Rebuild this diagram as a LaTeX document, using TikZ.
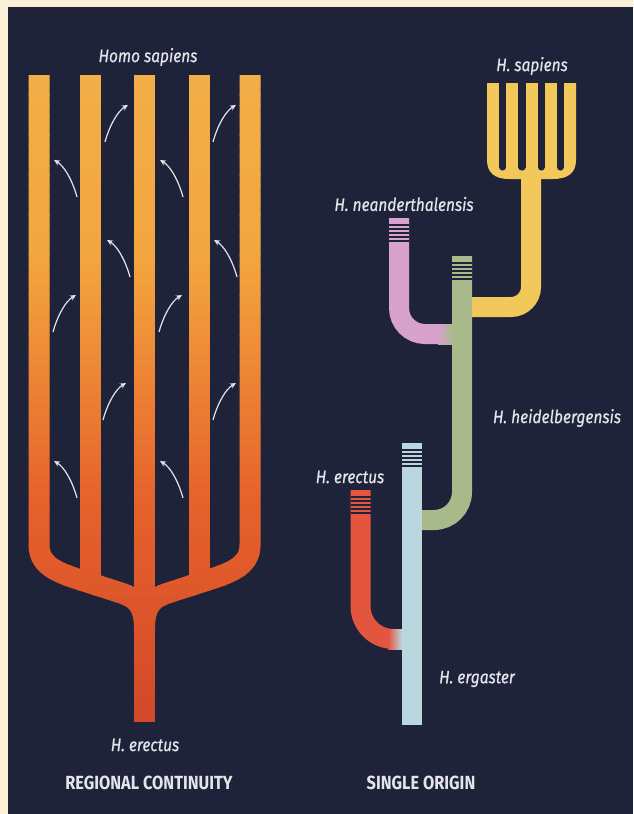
\documentclass[tikz,border=0pt]{standalone}
\usepackage{fontspec}
\setmainfont{Fira Sans}[FakeStretch=0.86]
\newfontfamily\lblfamily{Fira Sans}[FakeStretch=0.86, FakeBold=0.6]
\usetikzlibrary{arrows.meta}
\definecolor{cream}{HTML}{FBEFD8}
\definecolor{bg}{HTML}{1E2339}
\definecolor{txt}{HTML}{E4E4EA}
\definecolor{gA}{HTML}{F2AE48}
\definecolor{gB}{HTML}{F2A53E}
\definecolor{gC}{HTML}{E6622B}
\definecolor{gD}{HTML}{D2482A}
\definecolor{sapY}{HTML}{F3C85A}
\definecolor{pinkN}{HTML}{D7A3CD}
\definecolor{greenH}{HTML}{A8B98A}
\definecolor{blueE}{HTML}{BAD7DF}
\definecolor{redE}{HTML}{E4553F}
\colorlet{cur}{gA}
\tikzset{
  lbl/.style={text=txt, font=\lblfamily\itshape\fontsize{18}{18}\selectfont, inner sep=0pt},
  ttl/.style={text=txt, font=\bfseries\fontsize{19}{19}\selectfont, inner sep=0pt},
  lbar/.style={draw=cur, line width=21pt, line join=round},
  rbar/.style={draw=#1, line width=20pt},
  migr/.style={draw=txt, line width=1.2pt, -{Stealth[length=6pt,width=5.5pt]}},
  stripe/.style={draw=bg, line width=1.1pt}
}
\newcommand\leftfig{%
  \draw[lbar] (39,75) -- (39,545) .. controls (39,568) and (62,574) .. (90,583) -- (118,592) .. controls (138,598) and (144.5,606) .. (144.5,630);
  \draw[lbar] (250,75) -- (250,545) .. controls (250,568) and (227,574) .. (199,583) -- (171,592) .. controls (151,598) and (144.5,606) .. (144.5,630);
  \draw[lbar] (90,75) -- (90,585);
  \draw[lbar] (199,75) -- (199,585);
  \draw[lbar] (144.5,75) -- (144.5,722);
}
\newcommand\upright[2]{\draw[migr] (#1,#2) .. controls ++(5,-18) and ++(-10,6) .. ++(23,-37);}
\newcommand\upleft[2]{\draw[migr] (#1,#2) .. controls ++(-5,-18) and ++(10,6) .. ++(-23,-37);}
\newcommand\topstripes[3]{\foreach \d in {7,11,15,19,23}{\draw[stripe] (#1-#3,#2+\d) -- (#1+#3,#2+\d);}}
\begin{document}
\begin{tikzpicture}[x=1pt,y=-1pt]
\fill[cream] (0,0) rectangle (633,814);
\fill[bg] (8,7) rectangle (633,814);
\useasboundingbox (0,0) rectangle (633,814);
% left figure with vertical gradient
\foreach \i in {0,...,65}{
  \pgfmathsetmacro\ya{75+\i*10}
  \pgfmathsetmacro\yb{\ya+10.6}
  \pgfmathsetmacro\ym{\ya+5}
  \ifdim\ym pt<260pt
    \pgfmathtruncatemacro\t{(\ym-75)/185*100}\colorlet{cur}{gB!\t!gA}
  \else\ifdim\ym pt<500pt
    \pgfmathtruncatemacro\t{(\ym-260)/240*100}\colorlet{cur}{gC!\t!gB}
  \else
    \pgfmathtruncatemacro\t{min(100,(\ym-500)/222*100)}\colorlet{cur}{gD!\t!gC}
  \fi\fi
  \begin{scope}
    \clip (10,\ya) rectangle (300,\yb);
    \leftfig
  \end{scope}
}
% migration arrows
\upright{105}{142}\upright{213}{142}
\upleft{77}{197}\upleft{183}{197}
\upleft{130}{277}\upleft{237}{277}
\upright{53}{332}\upright{159}{332}
\upright{103}{420}\upright{213}{420}
\upleft{77}{498}\upleft{183}{498}
% right figure
\draw[rbar=sapY, rounded corners=20pt] (531,178) -- (531,307) -- (462,307);
\fill[sapY] (487,83) -- (487,160) .. controls (487,172) and (494,179) .. (509,179) -- (553,179) .. controls (569,179) and (576,172) .. (576,160) -- (576,83) -- cycle;
\foreach \g in {502.6,521.9,541.1,560.4}{\draw[bg, line width=7.2pt, line cap=round] (\g,80) -- (\g,167);}
\draw[rbar=pinkN, rounded corners=26pt] (399,218) -- (399,334) -- (462,334);
\shade[left color=pinkN, right color=greenH] (438,324) rectangle (453,344);
\topstripes{399}{218}{10}
\draw[rbar=greenH, rounded corners=28pt] (462,256) -- (462,520) -- (411,520);
\topstripes{462}{256}{10}
\draw[rbar=redE, rounded corners=33pt] (360.5,490) -- (360.5,639) -- (411,639);
\shade[left color=redE, right color=blueE] (388,629) rectangle (402,649);
\topstripes{360.5}{490}{10}
\draw[rbar=blueE] (411.5,443) -- (411.5,725);
\topstripes{411.5}{443}{10}
% labels
\node[lbl] (t1) at (148,57) {Homo sapiens};
\node[lbl] (t2) at (532,66) {H. sapiens};
\node[lbl] (t3) at (404,204) {H. neanderthalensis};
\node[lbl] (t4) at (557,418) {H. heidelbergensis};
\node[lbl] (t5) at (350,477) {H. erectus};
\node[lbl] (t6) at (477,679) {H. ergaster};
\node[lbl] (t7) at (145,745) {H. erectus};
\node[ttl] (t8) at (149,783) {REGIONAL CONTINUITY};
\node[ttl] (t9) at (421,783) {SINGLE ORIGIN};
\end{tikzpicture}
\end{document}
